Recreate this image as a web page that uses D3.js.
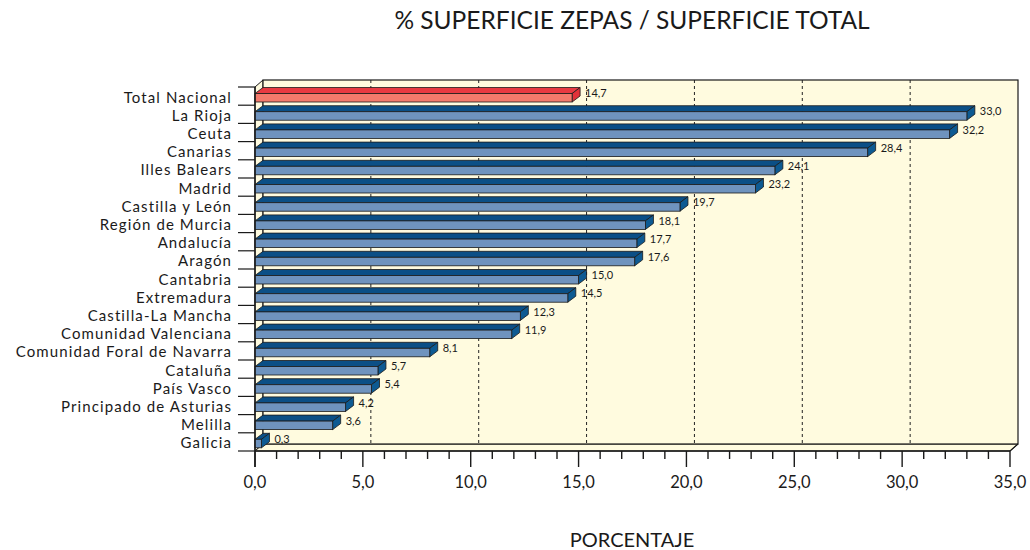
<!DOCTYPE html>
<html><head><meta charset="utf-8">
<script src="https://cdn.jsdelivr.net/npm/d3@7"></script>
<style>body{margin:0;background:#fff}svg{display:block}text{font-family:Lato,"Open Sans",sans-serif;fill:#1a1a1a}</style>
</head><body><svg id="c" width="1030" height="550"></svg>
<script>
const categories = ["Total Nacional","La Rioja","Ceuta","Canarias","Illes Balears","Madrid","Castilla y León","Región de Murcia","Andalucía","Aragón","Cantabria","Extremadura","Castilla-La Mancha","Comunidad Valenciana","Comunidad Foral de Navarra","Cataluña","País Vasco","Principado de Asturias","Melilla","Galicia"];
const values = [14.7,33.0,32.2,28.4,24.1,23.2,19.7,18.1,17.7,17.6,15.0,14.5,12.3,11.9,8.1,5.7,5.4,4.2,3.6,0.3];
const tickValues = [0,5,10,15,20,25,30,35];
const title = "% SUPERFICIE ZEPAS / SUPERFICIE TOTAL";
const axisTitle = "PORCENTAJE";

const svg = d3.select("#c");
const X0=255, X1=1010, Y0=87, Y1=451, DX=8, DY=-7;
const x = d3.scaleLinear().domain([0,35]).range([X0,X1]);
const y = d3.scaleBand().domain(categories).range([Y0,Y1]).padding(0);
const cream="#fffbdf", line="#1a1a1a";

// walls
svg.append("polygon").attr("points",[[X0,Y0],[X0+DX,Y0+DY],[X0+DX,Y1+DY],[X0,Y1]].join(" ")).attr("fill",cream).attr("stroke",line).attr("stroke-width",1);
svg.append("polygon").attr("points",[[X0,Y1],[X0+DX,Y1+DY],[X1+DX,Y1+DY],[X1,Y1]].join(" ")).attr("fill",cream).attr("stroke",line).attr("stroke-width",1);
svg.append("rect").attr("x",X0+DX).attr("y",Y0+DY).attr("width",X1-X0).attr("height",Y1-Y0).attr("fill",cream).attr("stroke",line).attr("stroke-width",1.2);

// gridlines
svg.selectAll(".grid").data(tickValues.slice(1,-1)).join("line")
  .attr("x1",d=>x(d)+DX).attr("x2",d=>x(d)+DX).attr("y1",Y0+DY).attr("y2",Y1+DY)
  .attr("stroke","#222").attr("stroke-dasharray","3,3").attr("stroke-width",1);

// bars
const g = svg.append("g");
categories.forEach((c,i)=>{
  const v=values[i], xe=x(v), bt=y(c);
  const yt=bt+6.5, yb=bt+15;
  const red=i===0;
  const front=red?"#f37a6c":"#6f93be", top=red?"#e83a42":"#0b4f86", side=red?"#e0323a":"#0d5a92";
  g.append("polygon").attr("points",[[X0,yt],[X0+DX,yt+DY+1],[xe+DX,yt+DY+1],[xe,yt]].join(" ")).attr("fill",top).attr("stroke",line).attr("stroke-width",0.8).attr("stroke-linejoin","round");
  g.append("polygon").attr("points",[[xe,yt],[xe+DX,yt+DY+1],[xe+DX,yb+DY+1],[xe,yb]].join(" ")).attr("fill",side).attr("stroke",line).attr("stroke-width",0.8).attr("stroke-linejoin","round");
  g.append("rect").attr("x",X0).attr("y",yt).attr("width",xe-X0).attr("height",yb-yt).attr("fill",front).attr("stroke",line).attr("stroke-width",0.8);
  g.append("text").attr("x",xe+DX+5).attr("y",yt+1).attr("font-size",11).attr("dominant-baseline","middle")
    .text(d3.format(".1f")(v).replace(".",","));
});

// left axis line and category ticks
svg.append("line").attr("x1",X0).attr("x2",X0).attr("y1",Y0).attr("y2",Y1+16).attr("stroke",line).attr("stroke-width",1.5);
const bounds = categories.map(c=>y(c)).concat([Y1]);
svg.selectAll(".ct").data(bounds).join("line").attr("x1",238).attr("x2",X0).attr("y1",d=>d).attr("y2",d=>d).attr("stroke",line).attr("stroke-width",1.2);
svg.selectAll(".cl").data(categories).join("text")
  .attr("x",232).attr("y",c=>y(c)+15.5).attr("text-anchor","end")
  .attr("font-size",15).attr("letter-spacing",1.1).text(c=>c);

// bottom axis
svg.append("line").attr("x1",X0).attr("x2",X1).attr("y1",Y1).attr("y2",Y1).attr("stroke",line).attr("stroke-width",1.5);
svg.append("line").attr("x1",X1).attr("x2",X1+DX).attr("y1",Y1).attr("y2",Y1+DY).attr("stroke",line).attr("stroke-width",1.2);
const minor = d3.range(0,36,1);
svg.selectAll(".mt").data(minor).join("line").attr("x1",d=>x(d)).attr("x2",d=>x(d)).attr("y1",Y1).attr("y2",d=>d%5===0?Y1+16:Y1+8).attr("stroke",line).attr("stroke-width",1.4);
svg.selectAll(".tl").data(tickValues).join("text").attr("x",d=>x(d)).attr("y",488).attr("text-anchor","middle")
  .attr("font-size",16.5).text(d=>d3.format(".1f")(d).replace(".",","));

svg.append("text").attr("x",632).attr("y",29).attr("text-anchor","middle").attr("font-size",24.5).text(title);
svg.append("text").attr("x",632).attr("y",547).attr("text-anchor","middle").attr("font-size",20).text(axisTitle);
</script></body></html>
